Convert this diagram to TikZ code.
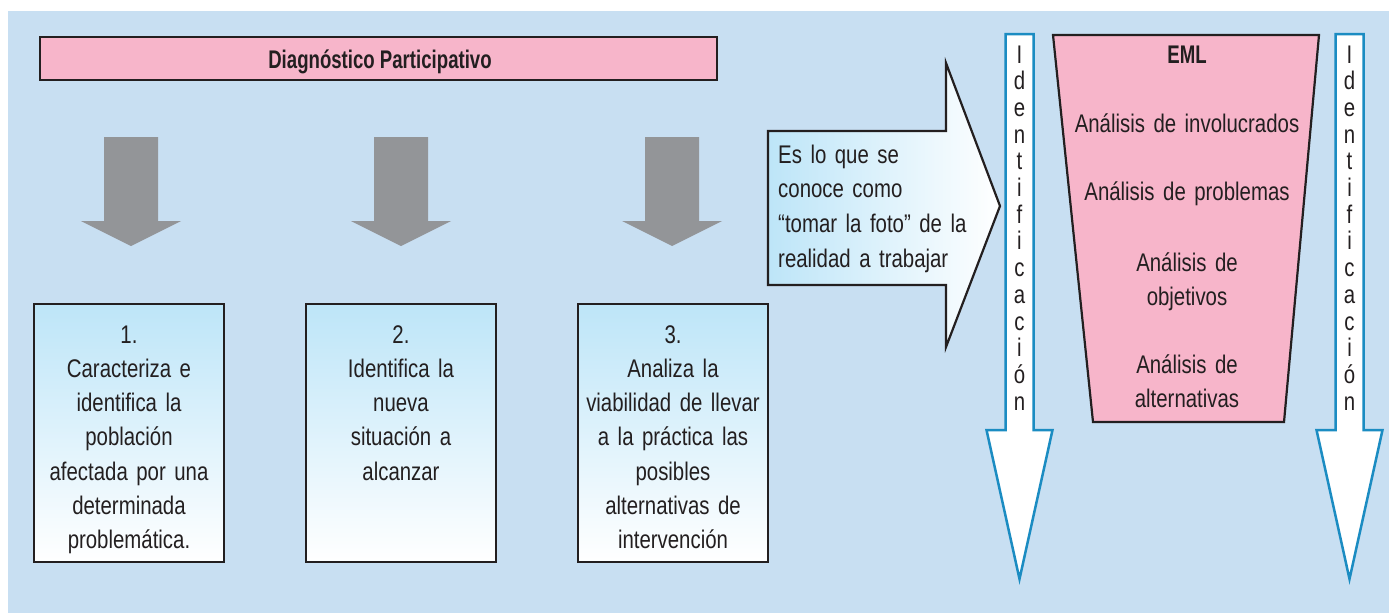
\documentclass[tikz,border=0pt]{standalone}
\usepackage{fontspec}
\setmainfont{Liberation Sans}[FakeStretch=0.8]
\newfontfamily\boldcn{Liberation Sans}[FakeStretch=0.73]

\definecolor{fondo}{HTML}{C8DFF2}
\definecolor{celeste}{HTML}{BDE5F8}
\definecolor{rosa}{HTML}{F7B5CA}
\definecolor{gris}{HTML}{939598}
\definecolor{azul}{HTML}{1B8CC2}
\definecolor{tinta}{HTML}{231F20}

\tikzset{
  pasobox/.style={draw=tinta, line width=2.2pt, top color=celeste, bottom color=white,
    minimum width=190, minimum height=258, inner sep=0pt},
  pasotxt/.style={text=tinta, text width=190, align=center, anchor=base, inner sep=0pt,
    font=\fontsize{25.5}{34.3}\selectfont},
  letras/.style={text=tinta, text width=30, align=center, anchor=base, inner sep=0pt,
    font=\fontsize{25.5}{26.7}\selectfont},
  emltxt/.style={text=tinta, text width=240, align=center, anchor=base, inner sep=0pt,
    font=\fontsize{25.5}{34.3}\selectfont}
}

\begin{document}
\begin{tikzpicture}[x=1pt,y=-1pt]

        \useasboundingbox (0,0) rectangle (1389,613);
        \fill[fondo] (8,11) rectangle (1389,613);

        % banner
        \node[draw=tinta, line width=2.2pt, fill=rosa, minimum width=677, minimum height=43,
          inner sep=0pt] (diag) at (378.5,58.5) {};
        \node[text=tinta, anchor=base, inner sep=0pt, font=\boldcn\bfseries\fontsize{25.5}{30}\selectfont]
          (diagtxt) at (380,68.3) {Diagnóstico Participativo};

        % gray arrows
        \foreach \cx in {131,401,672}
          \fill[gris] (\cx-27,137) -- (\cx+27,137) -- (\cx+27,221) -- (\cx+50,221)
            -- (\cx,246) -- (\cx-50,221) -- (\cx-27,221) -- cycle;

        % steps
        \begin{scope}[every node/.style={pasobox}]
          \node (caja1) at (129,433) {};
          \node (caja2) at (401,433) {};
          \node (caja3) at (673,433) {};
        \end{scope}

        \begin{scope}[every node/.style={pasotxt}]
          \node (paso1) at (129,343) {1.\\Caracteriza e\\identifica la\\población\\afectada por una\\determinada\\problemática.};
          \node (paso2) at (401,343) {2.\\Identifica la\\nueva\\situación a\\alcanzar};
          \node (paso3) at (673,343) {3.\\Analiza la\\viabilidad de llevar\\a la práctica las\\posibles\\alternativas de\\intervención};
        \end{scope}

        % big arrow
        \draw[tinta, line width=2.2pt, line join=miter, left color=celeste, right color=white]
          (768,131) -- (946,131) -- (946,63) -- (1000,206) -- (946,347) -- (946,285)
          -- (768,285) -- cycle;
        \node[text=tinta, text width=200, align=left, anchor=base west, inner sep=0pt,
          font=\fontsize{25.5}{34.8}\selectfont] (foto) at (778,163)
          {Es lo que se\\conoce como\\“tomar la foto” de la\\realidad a trabajar};

        % identificacion arrows
        \foreach \cx in {1019.5,1349.5}
          \draw[azul, fill=white, line width=2.5pt, line join=miter] (\cx-14,34) -- (\cx+14,34)
            -- (\cx+14,430) -- (\cx+33,430) -- (\cx,579) -- (\cx-33,430) -- (\cx-14,430) -- cycle;

        \begin{scope}[every node/.style={letras}]
          \node (ident1) at (1019.5,63) {I\\d\\e\\n\\t\\i\\f\\i\\c\\a\\c\\i\\ó\\n};
          \node (ident2) at (1349.5,63) {I\\d\\e\\n\\t\\i\\f\\i\\c\\a\\c\\i\\ó\\n};
        \end{scope}

        % EML
        \draw[tinta, fill=rosa, line width=2.2pt, line join=miter]
          (1053,35) -- (1319,35) -- (1284,422) -- (1093,422) -- cycle;
        \begin{scope}[every node/.style={emltxt}]
          \node[font=\boldcn\bfseries\fontsize{25.5}{30}\selectfont] (eml) at (1187,63) {EML};
          \node (invol) at (1187,132) {Análisis de involucrados};
          \node (probl) at (1187,200) {Análisis de problemas};
          \node (objet) at (1187,271) {Análisis de\\objetivos};
          \node (alter) at (1187,373) {Análisis de\\alternativas};
        \end{scope}

      \end{tikzpicture}
\end{document}
